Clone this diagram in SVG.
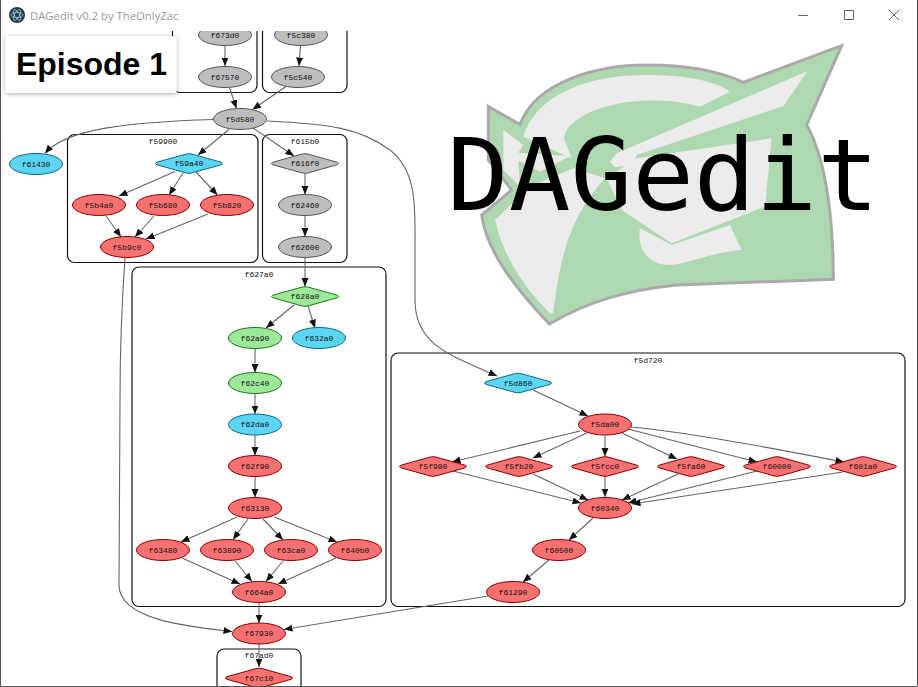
<svg xmlns="http://www.w3.org/2000/svg" width="918" height="687" viewBox="0 0 918 687">
<style>
text{font-family:"Liberation Mono","DejaVu Sans Mono",monospace;font-size:8px;fill:#111;text-anchor:middle}
.c{fill:#fff;stroke:#111;stroke-width:1.2}
.r{fill:#f87171;stroke:#8b0000;stroke-width:1}
.b{fill:#5cd5f2;stroke:#0b6a85;stroke-width:1}
.g{fill:#9de898;stroke:#1b7a1b;stroke-width:1}
.y{fill:#bdbdbd;stroke:#555;stroke-width:1}
#edges path{fill:none;stroke:#666;stroke-width:1.1;marker-end:url(#a)}
</style>
<defs>
<marker id="a" markerUnits="userSpaceOnUse" markerWidth="9" markerHeight="8" refX="8.5" refY="3.500" orient="auto"><path d="M0 0L8.500 3.500L0 7z" fill="#111"/></marker>
<path id="d" d="M-33.500 0Q-33.500 -1 -31 -1.600L-3 -9.400Q0 -10.200 3 -9.400L31 -1.600Q33.500 -1 33.500 0Q33.500 1 31 1.600L3 9.400Q0 10.200 -3 9.400L-31 1.600Q-33.500 1 -33.500 0z"/>
<filter id="s" x="-10%" y="-20%" width="120%" height="140%"><feDropShadow dx="0" dy="1" stdDeviation="2" flood-color="#000" flood-opacity=".35"/></filter>
</defs>
<rect width="918" height="687" fill="#fff"/>

<g id="clusters">
<g id="f673cluster"><rect class="c" x="172.500" y="10" width="84.500" height="82.500" rx="7"/></g>
<g id="f5c3cluster"><rect class="c" x="262.500" y="10" width="84.500" height="82.500" rx="7"/></g>
<g id="f59900"><rect class="c" x="67.500" y="134.500" width="190.500" height="128" rx="7"/><text x="163" y="144">f59900</text></g>
<g id="f615b0"><rect class="c" x="262.500" y="134.500" width="84.500" height="128" rx="7"/><text x="305" y="144">f615b0</text></g>
<g id="f627a0"><rect class="c" x="132" y="267" width="254" height="339.500" rx="7"/><text x="259" y="277">f627a0</text></g>
<g id="f5d720"><rect class="c" x="391" y="353" width="514" height="253.500" rx="7"/><text x="648" y="363">f5d720</text></g>
<g id="f67ad0"><rect class="c" x="217" y="649" width="84" height="60" rx="7"/><text x="259" y="658">f67ad0</text></g>
</g>

<g id="edges">
<path d="M225 46L225 66"/>
<path d="M300.500 46L299 66"/>
<path d="M229.500 87.500L236.500 108.500"/>
<path d="M286 86.500L252.500 109.500"/>
<path d="M213.500 119.500C133 122 66 128 45 153.500"/>
<path d="M229 129.500L198 155"/>
<path d="M253 128L294 156"/>
<path d="M267 121C330 124 360 128 390 150C418 172 415 210 415 250L415 300C415 345 450 355 497 376"/>
<path d="M175 171.500L119 196"/>
<path d="M183 173L169 195"/>
<path d="M196 172L217.500 195"/>
<path d="M106 216L121 237"/>
<path d="M154 216L135 237"/>
<path d="M208 214L146 239"/>
<path d="M305 174L305 194.500"/>
<path d="M305 216L305 236.500"/>
<path d="M305 258L305 286.500"/>
<path d="M125 258C122 300 120 350 120 400L119 585C119 620 190 627 232 631.500"/>
<path d="M294 305L266 328"/>
<path d="M308 306L315 328"/>
<path d="M255 348.500L255 372.500"/>
<path d="M255 393.500L255 414"/>
<path d="M255 435L255 455.500"/>
<path d="M255 476.500L255 497.500"/>
<path d="M237 517L181 542"/>
<path d="M248 519L233 539.500"/>
<path d="M263 519L283 540"/>
<path d="M274 517L337 542"/>
<path d="M182 558L240 584"/>
<path d="M235 561L252 581.500"/>
<path d="M283 561L266 581.500"/>
<path d="M336 558L278 584"/>
<path d="M259 603L259 623"/>
<path d="M259 644L259 667"/>
<path d="M488 596L284 629.500"/>
<path d="M533 390L588 416"/>
<path d="M580 431L452 462"/>
<path d="M587 433L533 458"/>
<path d="M605 435.500L605 456.500"/>
<path d="M622 433L677 459"/>
<path d="M628 429L757 462"/>
<path d="M631 427C700 434 780 450 844 462"/>
<path d="M453 471L581 503"/>
<path d="M533 474L588 500"/>
<path d="M605 476.500L605 497"/>
<path d="M678 474L622 500"/>
<path d="M757 471L628 503"/>
<path d="M843 472L632 504"/>
<path d="M593 518L569 540"/>
<path d="M549 560L523 582"/>
</g>

<g id="n_f673d0" transform="translate(225 35)"><ellipse class="y" rx="26.500" ry="10.500"/><text y="2.500">f673d0</text></g>
<g id="n_f5c380" transform="translate(301 35)"><ellipse class="y" rx="26.500" ry="10.500"/><text y="2.500">f5c380</text></g>
<g id="n_f67570" transform="translate(225 77)"><ellipse class="y" rx="26.500" ry="10.500"/><text y="2.500">f67570</text></g>
<g id="n_f5c540" transform="translate(298 77)"><ellipse class="y" rx="26.500" ry="10.500"/><text y="2.500">f5c540</text></g>
<g id="n_f5d580" transform="translate(240 119)"><ellipse class="y" rx="26.500" ry="10.500"/><text y="2.500">f5d580</text></g>
<g id="n_f61430" transform="translate(36 164)"><ellipse class="b" rx="26.500" ry="10.500"/><text y="2.500">f61430</text></g>
<g id="n_f59a40" transform="translate(189 163.500)"><use href="#d" class="b"/><text y="2.500">f59a40</text></g>
<g id="n_f616f0" transform="translate(305 163.500)"><use href="#d" class="y"/><text y="2.500">f616f0</text></g>
<g id="n_f5b4a0" transform="translate(99 205)"><ellipse class="r" rx="26.500" ry="10.500"/><text y="2.500">f5b4a0</text></g>
<g id="n_f5b680" transform="translate(163 205)"><ellipse class="r" rx="26.500" ry="10.500"/><text y="2.500">f5b680</text></g>
<g id="n_f5b820" transform="translate(227 205)"><ellipse class="r" rx="26.500" ry="10.500"/><text y="2.500">f5b820</text></g>
<g id="n_f5b9c0" transform="translate(127 247)"><ellipse class="r" rx="26.500" ry="10.500"/><text y="2.500">f5b9c0</text></g>
<g id="n_f62460" transform="translate(305 205)"><ellipse class="y" rx="26.500" ry="10.500"/><text y="2.500">f62460</text></g>
<g id="n_f62600" transform="translate(305 247)"><ellipse class="y" rx="26.500" ry="10.500"/><text y="2.500">f62600</text></g>
<g id="n_f628a0" transform="translate(305 296.500)"><use href="#d" class="g"/><text y="2.500">f628a0</text></g>
<g id="n_f62a90" transform="translate(255 338)"><ellipse class="g" rx="26.500" ry="10.500"/><text y="2.500">f62a90</text></g>
<g id="n_f632a0" transform="translate(319 338)"><ellipse class="b" rx="26.500" ry="10.500"/><text y="2.500">f632a0</text></g>
<g id="n_f62c40" transform="translate(255 383)"><ellipse class="g" rx="26.500" ry="10.500"/><text y="2.500">f62c40</text></g>
<g id="n_f62da0" transform="translate(255 424.500)"><ellipse class="b" rx="26.500" ry="10.500"/><text y="2.500">f62da0</text></g>
<g id="n_f62f90" transform="translate(255 466)"><ellipse class="r" rx="26.500" ry="10.500"/><text y="2.500">f62f90</text></g>
<g id="n_f63130" transform="translate(255 508)"><ellipse class="r" rx="26.500" ry="10.500"/><text y="2.500">f63130</text></g>
<g id="n_f63480" transform="translate(163 550)"><ellipse class="r" rx="26.500" ry="10.500"/><text y="2.500">f63480</text></g>
<g id="n_f63890" transform="translate(227 550)"><ellipse class="r" rx="26.500" ry="10.500"/><text y="2.500">f63890</text></g>
<g id="n_f63ca0" transform="translate(291 550)"><ellipse class="r" rx="26.500" ry="10.500"/><text y="2.500">f63ca0</text></g>
<g id="n_f640b0" transform="translate(355 550)"><ellipse class="r" rx="26.500" ry="10.500"/><text y="2.500">f640b0</text></g>
<g id="n_f664a0" transform="translate(259 592)"><ellipse class="r" rx="26.500" ry="10.500"/><text y="2.500">f664a0</text></g>
<g id="n_f67930" transform="translate(259 633.500)"><ellipse class="r" rx="26.500" ry="10.500"/><text y="2.500">f67930</text></g>
<g id="n_f67c10" transform="translate(259 678)"><use href="#d" class="r"/><text y="2.500">f67c10</text></g>
<g id="n_f5d860" transform="translate(518 383)"><use href="#d" class="b"/><text y="2.500">f5d860</text></g>
<g id="n_f5da00" transform="translate(605 424.500)"><ellipse class="r" rx="26.500" ry="10.500"/><text y="2.500">f5da00</text></g>
<g id="n_f5f980" transform="translate(433 466.500)"><use href="#d" class="r"/><text y="2.500">f5f980</text></g>
<g id="n_f5fb20" transform="translate(519 466.500)"><use href="#d" class="r"/><text y="2.500">f5fb20</text></g>
<g id="n_f5fcc0" transform="translate(605 466.500)"><use href="#d" class="r"/><text y="2.500">f5fcc0</text></g>
<g id="n_f5fa60" transform="translate(691 466.500)"><use href="#d" class="r"/><text y="2.500">f5fa60</text></g>
<g id="n_f60000" transform="translate(777 466.500)"><use href="#d" class="r"/><text y="2.500">f60000</text></g>
<g id="n_f601a0" transform="translate(863 466.500)"><use href="#d" class="r"/><text y="2.500">f601a0</text></g>
<g id="n_f60340" transform="translate(605 508)"><ellipse class="r" rx="26.500" ry="10.500"/><text y="2.500">f60340</text></g>
<g id="n_f60500" transform="translate(559 550)"><ellipse class="r" rx="26.500" ry="10.500"/><text y="2.500">f60500</text></g>
<g id="n_f61290" transform="translate(513 592)"><ellipse class="r" rx="26.500" ry="10.500"/><text y="2.500">f61290</text></g>

<g id="logo" transform="translate(440 30) scale(.33333)">
<path d="M1205 47L910 157C830 120 720 105 620 105C480 105 290 150 240 283L145 230L145 390L215 480L125 555C140 670 240 790 328 882C450 810 570 780 710 765L1180 748C1180 600 1165 400 1100 285z" fill="#aed9b0" stroke="#aaa" stroke-width="9" stroke-linejoin="miter"/>
<g fill="#ebebeb">
<path d="M250 320C290 190 450 135 620 135C730 135 820 150 870 185L780 230C640 190 440 215 380 300L372 325L395 385L250 320z"/>
<path d="M1103 123L1030 228L590 375L580 405L525 412L510 395L530 370z"/>
<path d="M190 300L250 345L235 368L390 378L300 425L235 392L240 470L190 420z"/>
<path d="M165 570L270 470L400 415L495 445C420 530 365 620 340 850L330 850C250 770 190 680 165 570z"/>
<path d="M590 385L995 325L975 530L695 640L545 540L500 445z"/>
<path d="M600 595L695 645L870 585L905 660C800 670 740 705 680 705C620 700 590 650 600 595z"/>
</g>
</g>
<text id="wordmark" x="663" y="210" style="font-family:'DejaVu Sans Mono',monospace;font-size:100px;fill:#000" textLength="432" lengthAdjust="spacingAndGlyphs">DAGedit</text>

<g id="episode"><rect x="5.500" y="36" width="171" height="57" fill="#fff" filter="url(#s)"/><text x="91.500" y="75" style="font-family:'Liberation Sans',sans-serif;font-size:32px;font-weight:bold;fill:#000">Episode 1</text></g>

<g id="titlebar">
<rect width="918" height="31" fill="#fff"/>
<circle cx="17" cy="15" r="8" fill="#2c3a4b"/>
<g fill="none" stroke="#9fd8e8" stroke-width=".7"><ellipse cx="17" cy="15" rx="6" ry="2.500"/><ellipse cx="17" cy="15" rx="6" ry="2.500" transform="rotate(60 17 15)"/><ellipse cx="17" cy="15" rx="6" ry="2.500" transform="rotate(120 17 15)"/></g>
<text x="30" y="20" style="font-family:'Open Sans','Noto Sans',sans-serif;font-size:11.300px;text-anchor:start;fill:#999">DAGedit v0.2 by TheOnlyZac</text>
<path d="M798 15.500H808M844.500 10.500H853.500V19.500H844.500zM889 10L899 20M899 10L889 20" fill="none" stroke="#666" stroke-width="1"/>
</g>
<path d="M.5 0V686.500H917.500V0" fill="none" stroke="#555" stroke-width="1"/>
</svg>
